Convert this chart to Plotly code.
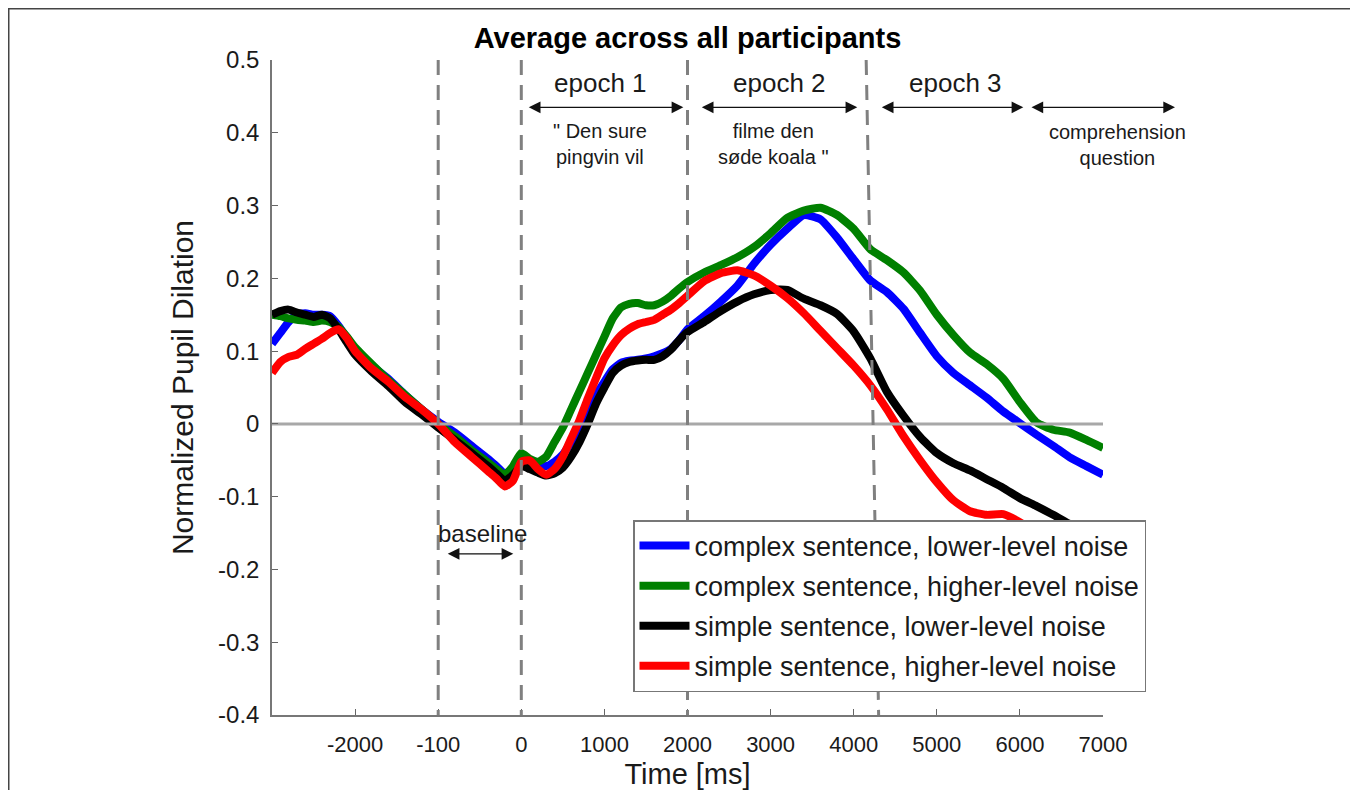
import plotly.graph_objects as go

# ---------------- data ----------------
time_ms = [-3000, -2900, -2800, -2700, -2600, -2500, -2400, -2300, -2200, -2100,
           -2000, -1800, -1600, -1400, -1200, -1000, -800, -600, -400, -300,
           -200, -100, 0, 100, 200, 300, 400, 500, 600, 700,
           800, 900, 1000, 1100, 1200, 1300, 1400, 1500, 1600, 1700,
           1800, 1900, 2000, 2200, 2400, 2600, 2800, 3000, 3200, 3400,
           3600, 3800, 4000, 4200, 4400, 4600, 4800, 5000, 5200, 5400,
           5600, 5800, 6000, 6200, 6400, 6600, 6800, 7000]

complex_lower = [0.110, 0.125, 0.140, 0.150, 0.152, 0.150, 0.150, 0.148, 0.135, 0.118,
                 0.100, 0.080, 0.062, 0.040, 0.020, 0.003, -0.012, -0.030, -0.048, -0.058,
                 -0.068, -0.062, -0.045, -0.050, -0.055, -0.058, -0.052, -0.042, -0.025, -0.010,
                 0.015, 0.040, 0.058, 0.075, 0.084, 0.087, 0.088, 0.090, 0.093, 0.097,
                 0.103, 0.115, 0.130, 0.148, 0.168, 0.190, 0.220, 0.246, 0.268, 0.287,
                 0.281, 0.256, 0.226, 0.197, 0.181, 0.158, 0.125, 0.093, 0.070, 0.053,
                 0.036, 0.017, 0.001, -0.015, -0.030, -0.046, -0.058, -0.070]

complex_higher = [0.150, 0.148, 0.145, 0.143, 0.142, 0.140, 0.142, 0.140, 0.133, 0.120,
                  0.105, 0.082, 0.060, 0.040, 0.020, 0.000, -0.017, -0.036, -0.053, -0.062,
                  -0.070, -0.058, -0.040, -0.048, -0.052, -0.045, -0.025, -0.005, 0.020, 0.045,
                  0.070, 0.095, 0.120, 0.145, 0.160, 0.165, 0.166, 0.163, 0.163, 0.168,
                  0.176, 0.186, 0.195, 0.208, 0.218, 0.229, 0.243, 0.262, 0.283, 0.293,
                  0.297, 0.287, 0.268, 0.240, 0.225, 0.208, 0.183, 0.150, 0.122, 0.098,
                  0.082, 0.062, 0.030, 0.002, -0.008, -0.012, -0.022, -0.033]

simple_lower = [0.150, 0.155, 0.157, 0.153, 0.150, 0.147, 0.150, 0.145, 0.130, 0.112,
                0.095, 0.072, 0.052, 0.030, 0.013, -0.005, -0.022, -0.040, -0.058, -0.068,
                -0.078, -0.070, -0.058, -0.062, -0.067, -0.071, -0.068, -0.060, -0.045, -0.025,
                0.000, 0.028, 0.050, 0.070, 0.080, 0.085, 0.087, 0.088, 0.088, 0.093,
                0.102, 0.115, 0.126, 0.140, 0.155, 0.168, 0.178, 0.184, 0.184, 0.172,
                0.163, 0.151, 0.127, 0.090, 0.044, 0.011, -0.018, -0.040, -0.054, -0.064,
                -0.076, -0.088, -0.102, -0.113, -0.125, -0.138, -0.150, -0.160]

simple_higher = [0.070, 0.085, 0.092, 0.095, 0.103, 0.110, 0.117, 0.125, 0.130, 0.118,
                 0.100, 0.076, 0.058, 0.037, 0.020, 0.000, -0.025, -0.045, -0.065, -0.075,
                 -0.086, -0.078, -0.052, -0.050, -0.062, -0.070, -0.062, -0.045, -0.020, 0.005,
                 0.035, 0.063, 0.090, 0.108, 0.122, 0.131, 0.137, 0.140, 0.143, 0.150,
                 0.157, 0.166, 0.176, 0.196, 0.207, 0.211, 0.204, 0.190, 0.173, 0.152,
                 0.128, 0.104, 0.080, 0.053, 0.020, -0.017, -0.050, -0.080, -0.105, -0.120,
                 -0.125, -0.124, -0.135, -0.150, -0.165, -0.180, -0.195, -0.210]

series_names = ["complex sentence, lower-level noise",
                "complex sentence, higher-level noise",
                "simple sentence, lower-level noise",
                "simple sentence, higher-level noise"]
series_values = [complex_lower, complex_higher, simple_lower, simple_higher]
series_colors = ["#0000ff", "#008000", "#000000", "#ff0000"]

xtick_vals = [-2000, -1000, 0, 1000, 2000, 3000, 4000, 5000, 6000, 7000]
xtick_text = ["-2000", "-100", "0", "1000", "2000", "3000", "4000", "5000", "6000", "7000"]
ytick_vals = [0.5, 0.4, 0.3, 0.2, 0.1, 0, -0.1, -0.2, -0.3, -0.4]
ytick_text = ["0.5", "0.4", "0.3", "0.2", "0.1", "0", "-0.1", "-0.2", "-0.3", "-0.4"]

# event markers (ms): vertical dashed lines; the last one is slightly slanted in the source
event_top = [-1000, 0, 2000, 4150]
event_bottom = [-1000, 0, 2000, 4300]

for s in series_values:
    assert len(s) == len(time_ms)

FONT = "Liberation Sans, Arial, Helvetica, sans-serif"
TXT = "#1a1a1a"

# figure is placed inside the page body (8px default margin), so size it to fit the window
FIG_W, FIG_H = 1350, 782
L, T = 264, 52
PW, PH = 831, 655

fig = go.Figure()
for name, vals, col in zip(series_names, series_values, series_colors):
    fig.add_trace(go.Scatter(x=time_ms, y=vals, mode="lines", name=name,
                             legendgroup=name,
                             line=dict(color=col, width=8, shape="spline", smoothing=0.5)))

# zero reference line
fig.add_trace(go.Scatter(x=[-3000, 7000], y=[0, 0], mode="lines", showlegend=False,
                         line=dict(color="#a8a8a8", width=3), hoverinfo="skip"))

shapes = []
for xt, xb in zip(event_top, event_bottom):
    shapes.append(dict(type="line", xref="x", yref="y", x0=xt, y0=0.5, x1=xb, y1=-0.4,
                       line=dict(color="#808080", width=3, dash="15px,10px"), layer="above"))
# outer frame
shapes.append(dict(type="rect", xref="paper", yref="paper",
                   x0=(0.75 - L) / PW, x1=(1344 - L) / PW, y0=-0.3, y1=(T + PH - 0.75) / PH,
                   line=dict(color="#444444", width=1.5), fillcolor="rgba(0,0,0,0)", layer="above"))

ann = []
def arrow(x0, x1, y):
    ann.append(dict(x=x1, y=y, ax=x0, ay=y, xref="x", yref="y", axref="x", ayref="y",
                    text="", showarrow=True, arrowhead=2, arrowside="end+start",
                    arrowsize=1.8, arrowwidth=1.3, arrowcolor="#111"))

def label(x, y, text, size, xref="x"):
    ann.append(dict(x=x, y=y, xref=xref, yref="y", text=text, showarrow=False,
                    font=dict(family=FONT, size=size, color=TXT),
                    xanchor="center", yanchor="middle", align="center"))

arrow(72, 1950, 0.435)
arrow(2154, 4043, 0.435)
arrow(4320, 6041, 0.435)
arrow(-903, -96, -0.1786)
# comprehension arrow (extends past the axis end) in paper coordinates
ann.append(dict(x=(1175 - 272) / PW, y=0.435, xref="paper", yref="y",
                ax=-145, ay=0, axref="pixel", ayref="pixel",
                text="", showarrow=True, arrowhead=2, arrowside="end+start",
                arrowsize=1.8, arrowwidth=1.3, arrowcolor="#111"))

label(950, 0.468, "epoch 1", 26)
label(3105, 0.468, "epoch 2", 26)
label(5223, 0.468, "epoch 3", 26)
label(950, 0.385, "\" Den sure<br>pingvin vil", 20)
label(3032, 0.385, "filme den<br>søde koala \"", 20)
label((1117 - 272) / PW, 0.383, "comprehension<br>question", 20, xref="paper")
label(-470, -0.150, "baseline", 24)

fig.update_layout(
    width=FIG_W, height=FIG_H,
    margin=dict(l=L, r=FIG_W - L - PW, t=T, b=FIG_H - T - PH, autoexpand=False),
    paper_bgcolor="white", plot_bgcolor="white",
    font=dict(family=FONT, color=TXT),
    title=dict(text="<b>Average across all participants</b>", x=0.5, xref="paper", xanchor="center",
               y=1 - 30 / FIG_H, yanchor="middle", yref="container",
               font=dict(family=FONT, size=29, color="#000")),
    xaxis=dict(range=[-3000, 7000], tickvals=xtick_vals, ticktext=xtick_text,
               ticks="inside", ticklen=6, tickwidth=1.3, tickcolor="#666",
               showline=True, linecolor="#777", linewidth=1.5, showgrid=False, zeroline=False,
               ticklabelstandoff=9,
               tickfont=dict(family=FONT, size=22, color=TXT),
               title=dict(text="Time [ms]", font=dict(family=FONT, size=29, color=TXT), standoff=10)),
    yaxis=dict(range=[-0.4, 0.5], tickvals=ytick_vals, ticktext=ytick_text,
               ticks="inside", ticklen=6, tickwidth=1.3, tickcolor="#666",
               showline=True, linecolor="#777", linewidth=1.5, showgrid=False, zeroline=False,
               ticklabelstandoff=6,
               tickfont=dict(family=FONT, size=24, color=TXT),
               title=dict(text="Normalized Pupil Dilation", font=dict(family=FONT, size=30, color=TXT),
                          standoff=16)),
    legend=dict(x=(633 - 272) / PW, y=(715 - 520) / PH, xanchor="left", yanchor="top",
                bgcolor="white", bordercolor="#777", borderwidth=1.5, itemwidth=50,
                font=dict(family=FONT, size=27, color=TXT), tracegroupgap=2),
    shapes=shapes,
    annotations=ann,
    showlegend=True,
)

fig.write_html("out.html")
